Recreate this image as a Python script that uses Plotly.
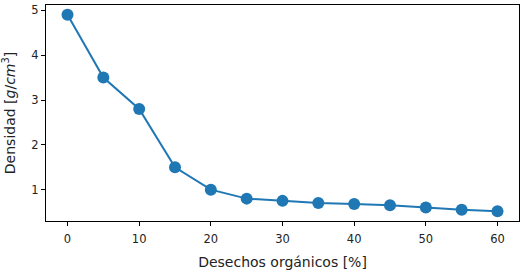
import plotly.graph_objects as go

desechos = [0, 5, 10, 15, 20, 25, 30, 35, 40, 45, 50, 55, 60]
densidad = [4.9, 3.5, 2.8, 1.5, 1.0, 0.8, 0.75, 0.7, 0.68, 0.65, 0.6, 0.55, 0.52]
x_ticks = [0, 10, 20, 30, 40, 50, 60]
y_ticks = [1, 2, 3, 4, 5]

fig = go.Figure(go.Scatter(
    x=desechos, y=densidad, mode="lines+markers",
    line=dict(color="#1f77b4", width=2),
    marker=dict(color="#1f77b4", size=12),
))

axis_common = dict(
    showline=True, linecolor="black", linewidth=1, mirror=True,
    ticks="outside", ticklen=4, tickcolor="black", tickwidth=1,
    showgrid=False, zeroline=False, automargin=False,
    tickfont=dict(family="DejaVu Sans", size=11.5, color="#222"),
)

fig.update_layout(
    width=523, height=272,
    margin=dict(l=46, r=4, t=5, b=51),
    plot_bgcolor="white", paper_bgcolor="white",
    showlegend=False,
    font=dict(family="DejaVu Sans", size=11.5, color="#222"),
    xaxis=dict(range=[-3, 63], tickvals=x_ticks, ticklabelstandoff=3,
               title=dict(text="Desechos orgánicos [%]", standoff=12), **axis_common),
    yaxis=dict(range=[0.301, 5.119], tickvals=y_ticks,
               title=dict(text="Densidad [<i>g</i>/<i>cm</i><sup>3</sup>]", standoff=12), **axis_common),
)

fig.write_html(
    "out.html",
    config={"displayModeBar": False},
    post_script="document.body.style.margin='0px';document.body.style.overflow='hidden';",
)
